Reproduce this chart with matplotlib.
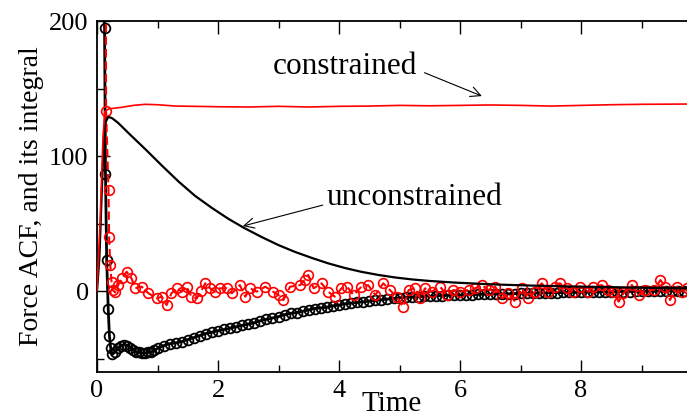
import matplotlib
matplotlib.use("Agg")
import matplotlib.pyplot as plt
from matplotlib.ticker import MultipleLocator

plt.rcParams["font.family"] = ["Liberation Serif", "DejaVu Serif"]

# running integral, unconstrained (black line)
t_int_free = [0.0, 0.04, 0.08, 0.11, 0.14, 0.187, 0.25, 0.35, 0.52, 0.8, 1.07, 1.35, 1.62,
              1.9, 2.17, 2.42, 2.72, 3.0, 3.27, 3.55, 3.82, 4.1, 4.37, 4.65, 4.93, 5.2,
              5.48, 5.89, 6.2, 6.5, 6.75, 7.2, 7.7, 8.2, 8.7, 9.2, 9.75]
int_free = [0, 25, 75, 110, 125, 129, 128, 124.5, 117, 105, 93, 81, 70.5,
            61.5, 53.5, 47, 40, 34, 29, 24.5, 20.5, 17, 14.2, 11.9, 10, 8.6,
            7.5, 6.3, 5.6, 5.0, 4.6, 4.0, 3.5, 3.1, 2.7, 2.3, 2.0]

# running integral, constrained (red line)
t_int_con = [0.0, 0.05, 0.1, 0.13, 0.2, 0.4, 0.6, 0.8, 1.0, 1.3, 1.6, 2.0, 2.5, 3.0,
             3.5, 4.0, 4.5, 5.0, 5.5, 6.0, 6.5, 7.0, 7.5, 8.0, 8.5, 9.0, 9.75]
int_con = [0, 50, 115, 133, 135, 136, 137.5, 138.3, 138, 137, 136.8, 136.5, 136.3, 136.8,
           136.3, 136.8, 137, 137.5, 137.2, 137.5, 137.8, 137.5, 137, 137.5, 138, 138.3, 138.5]

# force ACF, unconstrained (black circles)
t_acf_free = [0.10, 0.125, 0.14, 0.16, 0.185, 0.205, 0.225, 0.25, 0.3, 0.35, 0.4, 0.45,
              0.5, 0.55, 0.6, 0.65, 0.7, 0.75, 0.8, 0.85, 0.9, 0.95, 1.0, 1.1, 1.2, 1.3,
              1.4, 1.5, 1.6, 1.7, 1.8, 1.9, 2.0, 2.1, 2.2, 2.3, 2.4, 2.5, 2.6, 2.7, 2.8,
              2.9, 3.0, 3.1, 3.2, 3.3, 3.4, 3.5, 3.6, 3.7, 3.8, 3.9, 4.0, 4.1, 4.2, 4.3,
              4.4, 4.5, 4.6, 4.7, 4.8, 4.9, 5.0, 5.1, 5.2, 5.3, 5.4, 5.5, 5.6, 5.7, 5.8,
              5.9, 6.0, 6.1, 6.2, 6.3, 6.4, 6.5, 6.6, 6.7, 6.8, 6.9, 7.0, 7.1, 7.2, 7.3,
              7.4, 7.5, 7.6, 7.7, 7.8, 7.9, 8.0, 8.1, 8.2, 8.3, 8.4, 8.5, 8.6, 8.7, 8.8,
              8.9, 9.0, 9.1, 9.2, 9.3, 9.4, 9.5, 9.6, 9.7]
acf_free = [260, 195, 87, 23, -13, -33, -42, -47, -45, -42, -40.5, -40,
            -40.5, -42, -43.5, -45, -45.5, -46, -46, -45.5, -45, -44, -42.5, -40.5, -39, -38.5,
            -37.5, -36, -34.5, -33, -31.5, -30.5, -29.5, -28.5, -27.5, -26.5, -25.5, -24.5, -23.5, -22, -21,
            -20, -19, -17.5, -16.5, -16, -15, -14, -13, -12.5, -12, -11, -10.5, -9.5, -9, -8.5,
            -8, -7.5, -7, -6.5, -6, -5.5, -5, -4.8, -4.5, -4.3, -4, -3.8, -3.5, -3.4, -3.2,
            -3, -3, -2.8, -2.7, -2.5, -2.4, -2.3, -2.2, -2.1, -2, -1.9, -1.8, -1.7, -1.6, -1.5,
            -1.4, -1.3, -1.2, -1.1, -1, -1, -0.9, -0.8, -0.8, -0.7, -0.6, -0.5, -0.5, -0.4, -0.4,
            -0.3, -0.3, -0.2, -0.2, -0.1, -0.1, 0, 0, 0]

# force ACF, constrained (red circles)
t_acf_con = [0.145, 0.15, 0.19, 0.2, 0.22, 0.24, 0.26, 0.3, 0.35, 0.42, 0.49, 0.57, 0.63,
             0.74, 0.85, 0.99, 1.07, 1.15, 1.23, 1.32, 1.40, 1.48, 1.56, 1.65, 1.72, 1.79,
             1.87, 1.95, 2.03, 2.14, 2.23, 2.36, 2.45, 2.53, 2.64, 2.78, 2.91, 3.0, 3.08,
             3.19, 3.36, 3.43, 3.49, 3.58, 3.71, 3.82, 3.93, 4.04, 4.13, 4.24, 4.37, 4.48,
             4.6, 4.73, 4.84, 4.95, 5.06, 5.15, 5.26, 5.34, 5.42, 5.53, 5.67, 5.78, 5.89,
             6.0, 6.14, 6.25, 6.36, 6.47, 6.58, 6.69, 6.8, 6.91, 7.02, 7.13, 7.24, 7.35,
             7.46, 7.57, 7.65, 7.76, 7.87, 7.98, 8.12, 8.2, 8.34, 8.45, 8.53, 8.62, 8.7,
             8.84, 8.95, 9.06, 9.2, 9.31, 9.39, 9.47, 9.58, 9.66, 9.75]
acf_con = [260, 133, 75, 40, 19, 7, 0.7, -1, 4.4, 10, 14.3, 9.4, 2,
           3.2, -1.7, -5.4, -4.2, -10.4, -1.7, 2, -0.5, 3.2, -4.2, -5.4, 0, 5.7,
           2, -0.5, 2, 2, -1.7, 4.4, -4.2, 2, -0.5, 3.2, -0.5, -3, -6.7,
           3.2, 4.4, 8, 11.9, 2, 5.7, -0.5, -4.2, 2, 3.2, -3, 3.2, 4.4,
           -3, 5.7, 0.7, -4.2, -11.6, 0.7, 2, -5.4, 2, -0.5, 3.2, -3, 0.7,
           -0.5, 0.7, 2, 4.4, 0.7, 3.2, -5.4, -1.7, -7.9, 2, -5.4, -0.5, 5.7,
           -0.5, 3.2, 5.7, 2, -0.5, 3.2, -0.5, 3.2, 4.4, 0.7, -0.5, -7.9, -1.7,
           4.4, -3, 0.7, 0.7, 8.1, 3.2, -6.7, 3.2, -0.5, 2]

fig = plt.figure(figsize=(6.87, 4.17), dpi=100)
ax = fig.add_axes([0.1412, 0.1079, 0.8588, 0.8417])

ax.plot(t_acf_free, acf_free, color="black", linewidth=2.0, marker="o", markersize=7,
        markerfacecolor="none", markeredgecolor="black", markeredgewidth=1.3, zorder=2)
ax.plot(t_acf_con, acf_con, color="red", linewidth=1.5, linestyle=(0, (4, 2)), marker="o",
        markersize=7, markerfacecolor="none", markeredgecolor="red", markeredgewidth=1.2,
        zorder=3)
ax.plot(t_int_free, int_free, color="black", linewidth=1.6, zorder=4)
ax.plot(t_int_con, int_con, color="red", linewidth=1.2, zorder=5)

ax.set_xlim(0, 9.75)
ax.set_ylim(-60, 200)
ax.xaxis.set_major_locator(MultipleLocator(2))
ax.xaxis.set_minor_locator(MultipleLocator(1))
ax.yaxis.set_major_locator(MultipleLocator(100))
ax.yaxis.set_minor_locator(MultipleLocator(50))
ax.tick_params(which="both", direction="in", top=True, right=False, width=1.0,
               labelsize=19, pad=6)
ax.tick_params(which="major", length=9)
ax.tick_params(which="minor", length=5)
for side in ["left", "bottom", "top"]:
    ax.spines[side].set_linewidth(1.3)
ax.spines["right"].set_visible(False)

ax.set_xlabel("Time", fontsize=21, labelpad=-8)
ax.set_ylabel("Force ACF, and its integral", fontsize=20, labelpad=4)

arrow = dict(arrowstyle="->", color="black", linewidth=0.8, mutation_scale=18)
ax.annotate("constrained", xy=(6.36, 144.4), xytext=(4.1, 166), fontsize=22.5,
            ha="center", va="center",
            arrowprops=dict(arrow, shrinkA=0, shrinkB=0, patchA=None,
                            relpos=(1.05, 0.3)))
ax.annotate("unconstrained", xy=(2.41, 48.1), xytext=(5.24, 69), fontsize=22.5,
            ha="center", va="center",
            arrowprops=dict(arrow, shrinkA=0, shrinkB=0, patchA=None,
                            relpos=(-0.02, 0.25)))

fig.savefig("out.png", dpi=100)
